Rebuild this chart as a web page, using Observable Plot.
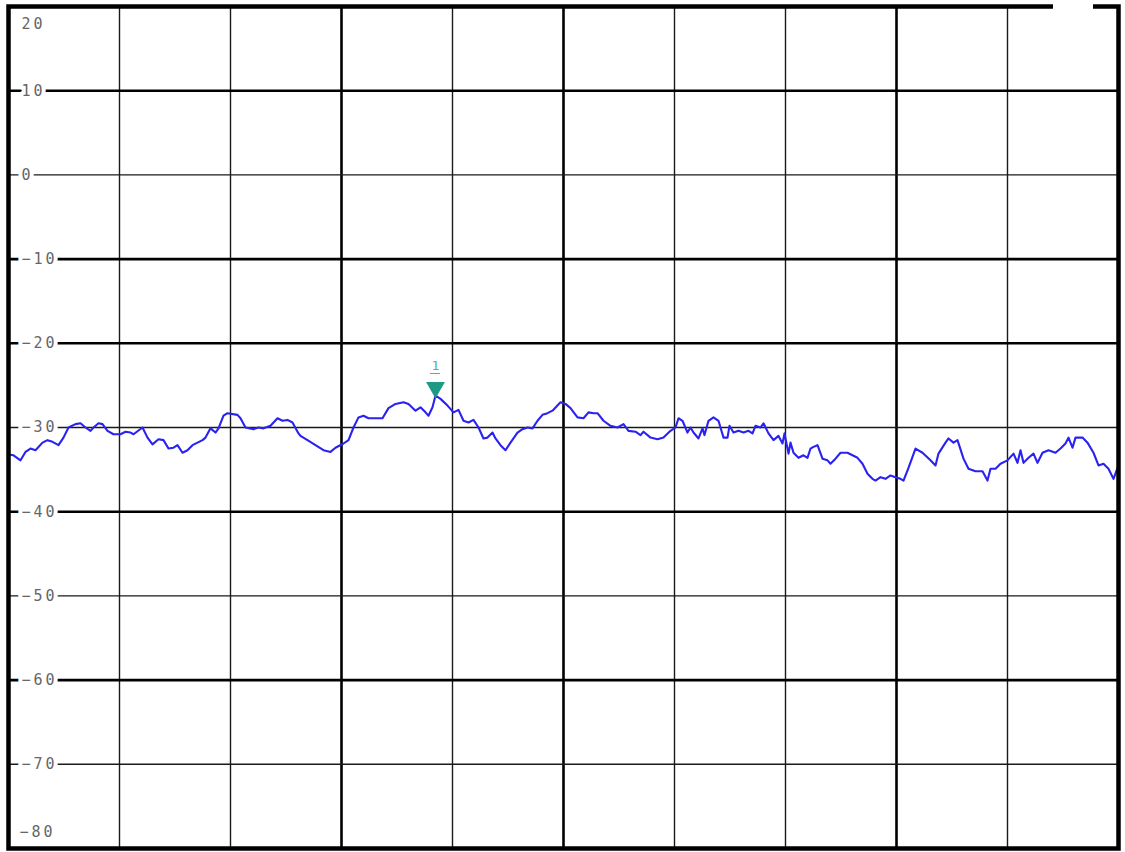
<!DOCTYPE html>
<html>
<head>
<meta charset="utf-8">
<script src="https://cdn.jsdelivr.net/npm/d3@7"></script>
<script src="https://cdn.jsdelivr.net/npm/@observablehq/plot@0.6"></script>
<style>
  html, body { margin: 0; padding: 0; background: #fff; }
  #chart svg { display: block; }
</style>
</head>
<body>
<div id="chart"></div>
<script>
// Trace: horizontal position (trace bin, 0..1110 over 10 divisions) and level in dB
const traceBins = [0,5,12,17,22,27,34,39,44,50,55,60,67,72,77,82,85,90,94,99,105,112,117,122,125,134,139,144,150,155,160,165,169,174,179,184,189,194,197,202,207,210,215,219,229,232,237,245,250,255,262,269,274,279,284,290,292,299,307,315,322,327,335,340,345,350,355,360,374,380,387,395,400,407,412,417,420,424,427,432,439,445,450,455,460,465,470,475,479,484,487,492,497,502,509,514,519,524,529,534,539,544,552,557,562,569,575,580,585,589,595,602,609,615,620,627,632,635,642,649,655,662,667,670,674,679,682,685,690,694,696,700,705,710,715,719,721,725,730,735,740,744,747,752,755,760,765,770,774,776,780,782,785,790,795,799,802,805,809,814,819,822,827,832,839,844,849,854,859,864,867,872,877,882,887,892,895,900,907,914,922,927,930,937,940,945,949,955,960,967,974,979,982,987,992,999,1005,1009,1012,1015,1020,1025,1029,1034,1040,1047,1052,1057,1060,1064,1067,1074,1079,1085,1090,1095,1100,1105,1110];
const traceDb = [-33.2,-33.3,-33.9,-32.9,-32.5,-32.7,-31.8,-31.5,-31.7,-32.1,-31.2,-30.0,-29.6,-29.5,-30.0,-30.4,-30.0,-29.5,-29.6,-30.4,-30.8,-30.8,-30.5,-30.6,-30.8,-30.0,-31.2,-32.0,-31.4,-31.5,-32.5,-32.4,-32.1,-33.0,-32.7,-32.1,-31.8,-31.5,-31.2,-30.1,-30.6,-30.1,-28.6,-28.3,-28.5,-28.9,-30.0,-30.2,-30.0,-30.1,-29.8,-28.9,-29.2,-29.1,-29.4,-30.7,-31.0,-31.5,-32.1,-32.7,-32.9,-32.4,-31.9,-31.5,-30.0,-28.8,-28.6,-28.9,-28.9,-27.7,-27.2,-27.0,-27.2,-28.0,-27.6,-28.2,-28.6,-27.6,-26.2,-26.6,-27.4,-28.2,-27.9,-29.2,-29.4,-29.1,-30.0,-31.3,-31.2,-30.6,-31.3,-32.1,-32.7,-31.8,-30.6,-30.2,-30.0,-30.1,-29.2,-28.5,-28.3,-28.0,-27.0,-27.2,-27.7,-28.8,-28.9,-28.2,-28.3,-28.3,-29.2,-29.8,-30.0,-29.6,-30.4,-30.5,-30.9,-30.5,-31.2,-31.4,-31.2,-30.4,-30.0,-28.9,-29.2,-30.6,-30.0,-30.6,-31.3,-30.1,-30.9,-29.2,-28.8,-29.2,-31.2,-31.2,-29.8,-30.6,-30.4,-30.6,-30.4,-30.7,-29.8,-30.0,-29.5,-30.7,-31.5,-31.0,-31.9,-30.7,-33.1,-31.8,-33.0,-33.6,-33.3,-33.6,-32.5,-32.3,-32.1,-33.7,-33.9,-34.3,-33.7,-33.0,-33.0,-33.3,-33.6,-34.3,-35.5,-36.1,-36.3,-35.9,-36.1,-35.7,-35.9,-36.1,-36.3,-34.8,-32.5,-33.0,-33.9,-34.5,-33.1,-31.8,-31.3,-31.8,-31.5,-33.7,-34.9,-35.2,-35.2,-36.3,-34.9,-34.9,-34.3,-33.9,-33.1,-34.2,-32.7,-34.2,-33.6,-33.1,-34.2,-33.0,-32.7,-33.0,-32.5,-31.9,-31.2,-32.4,-31.2,-31.2,-31.8,-33.0,-34.5,-34.3,-34.9,-36.1,-34.5];

// Grid
const verticalThin = [111, 222, 444, 666, 777, 999];
const verticalThick = [333, 555, 888];
const levelThick = [10, -10, -20, -40, -60];
const levelThin = [0, -30, -50, -70];
const midLabels = [10, 0, -10, -20, -30, -40, -50, -60, -70];
const topLabel = [20];
const bottomLabel = [-80];

// Marker
const markerBin = [427];
const markerDb = [-26.2];
const markerText = ["1"];

const trace = traceBins.map((b, i) => ({bin: b, db: traceDb[i]}));
const marker = markerBin.map((b, i) => ({bin: b, db: markerDb[i], label: markerText[i]}));
const fmt = v => (v < 0 ? "\u2212" + Math.abs(v) : String(v));
const font = "DejaVu Sans Mono";

const chart = Plot.plot({
  width: 1125,
  height: 852,
  marginLeft: 8,
  marginRight: 7,
  marginTop: 6,
  marginBottom: 4,
  x: {domain: [0, 1110], axis: null},
  y: {domain: [-80, 20], axis: null},
  style: {background: "#fff"},
  marks: [
    Plot.ruleX(verticalThin, {stroke: "#1a1a1a", strokeWidth: 1.4}),
    Plot.ruleX(verticalThick, {stroke: "#000", strokeWidth: 2.6}),
    Plot.ruleY(levelThin, {stroke: "#1a1a1a", strokeWidth: 1.4}),
    Plot.ruleY(levelThick, {stroke: "#000", strokeWidth: 2.6}),
    Plot.text(midLabels, {x: 0, y: d => d, text: fmt, dx: 13, textAnchor: "start",
      fontFamily: font, fontSize: 15, fill: "#666", stroke: "#fff", strokeWidth: 8, paintOrder: "stroke"}),
    Plot.text(topLabel, {x: 0, y: d => d, text: fmt, dx: 13, dy: 18, textAnchor: "start",
      fontFamily: font, fontSize: 15, fill: "#666"}),
    Plot.text(bottomLabel, {x: 0, y: d => d, text: fmt, dx: 11, dy: -16, textAnchor: "start",
      fontFamily: font, fontSize: 15, fill: "#666"}),
    Plot.line(trace, {x: "bin", y: "db", stroke: "#2a22f0", strokeWidth: 2.1, curve: "linear"}),
    Plot.dot(marker, {x: "bin", y: "db", symbol: "triangle", rotate: 180, r: 7, dy: -8,
      fill: "#1d9a86", stroke: "none"}),
    Plot.text(marker, {x: "bin", y: "db", text: "label", dy: -30, fontFamily: font, fontSize: 13, fill: "#4fb3a4"}),
    Plot.ruleY(marker, {x1: d => d.bin - 5, x2: d => d.bin + 5, y: "db", dy: -22, stroke: "#4fb3a4", strokeWidth: 1}),
    Plot.frame({stroke: "#000", strokeWidth: 4.5}),
    Plot.rect([{x1: 1045, x2: 1085}], {x1: "x1", x2: "x2", y1: 19.4, y2: 20.6, fill: "#fff", clip: false})
  ]
});
// widen the level labels (the reference uses a loosely spaced monospace)
d3.select(chart).selectAll('g[aria-label="text"]').filter((d, i) => i < 3)
  .selectAll("text").attr("letter-spacing", 3);
document.getElementById("chart").appendChild(chart);
</script>
</body>
</html>
